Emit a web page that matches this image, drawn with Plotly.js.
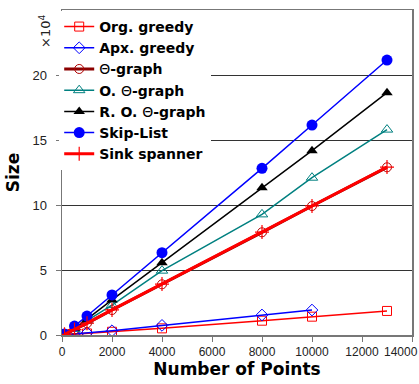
<!DOCTYPE html>
<html><head><meta charset="utf-8">
<script src="https://cdn.plot.ly/plotly-3.0.1.min.js"></script>
<style>html,body{margin:0;padding:0;background:#fff}#chart{width:419px;height:384px}</style>
</head><body><div id="chart"></div>
<script>
// x: number of points; y values in units of 10^4
const points = [100, 500, 1000, 2000, 4000, 8000, 10000, 13000];
const pointsApx = [100, 500, 1000, 2000, 4000, 8000, 10000];
const orgGreedy = [0.01, 0.06, 0.12, 0.25, 0.51, 1.1, 1.41, 1.85];
const apxGreedy = [0.02, 0.08, 0.17, 0.33, 0.74, 1.54, 1.92];
const thetaGraph = [0.05, 0.42, 0.9, 1.92, 3.9, 7.9, 9.92, 12.9];
const oThetaGraph = [0.06, 0.47, 1.1, 2.3, 4.95, 9.28, 12.1, 15.8];
const roThetaGraph = [0.07, 0.52, 1.22, 2.7, 5.56, 11.33, 14.18, 18.64];
const skipList = [0.08, 0.69, 1.46, 3.08, 6.33, 12.82, 16.15, 21.15];
const sinkSpanner = [0.05, 0.42, 0.91, 1.93, 3.92, 7.92, 9.93, 12.92];
const xTicks = [0, 2000, 4000, 6000, 8000, 10000, 12000, 14000];
const xTickLabels = ['0', '2000', '4000', '6000', '8000', '10000', '12000', '14000'];
const yTicks = [0, 5, 10, 15, 20];
const seriesNames = ['Org. greedy','Apx. greedy','<span style="font-weight:normal">Θ</span>-graph','O. <span style="font-weight:normal">Θ</span>-graph','R. O. <span style="font-weight:normal">Θ</span>-graph','Skip-List','Sink spanner'];

const lastIdx = xTickLabels.length - 1;
// the last x label is drawn right-aligned at the page edge (as in the reference) so it is not cut off
const xTickText = xTickLabels.map((t, i) => i === lastIdx ? '' : t);
const tickFont = {size:12, color:'#222', family:'Liberation Sans, Arial, sans-serif'};

const traces = [
  {x: points, y: orgGreedy, name: seriesNames[0], mode:'lines+markers', line:{color:'#ff0000', width:1.5}, marker:{symbol:'square-open', size:9, color:'#ff0000'}},
  {x: pointsApx, y: apxGreedy, name: seriesNames[1], mode:'lines+markers', line:{color:'#0000ff', width:1.5}, marker:{symbol:'diamond-open', size:9, color:'#0000ff'}},
  {x: points, y: thetaGraph, name: seriesNames[2], mode:'lines+markers', line:{color:'#8b0000', width:3}, marker:{symbol:'circle-open', size:9, color:'#b00000'}},
  {x: points, y: oThetaGraph, name: seriesNames[3], mode:'lines+markers', line:{color:'#008080', width:1.5}, marker:{symbol:'triangle-up-open', size:10, color:'#008080'}},
  {x: points, y: roThetaGraph, name: seriesNames[4], mode:'lines+markers', line:{color:'#000000', width:1.5}, marker:{symbol:'triangle-up', size:10, color:'#000000'}},
  {x: points, y: skipList, name: seriesNames[5], mode:'lines+markers', line:{color:'#0000ff', width:1.5}, marker:{symbol:'circle', size:11, color:'#0000ff'}},
  {x: points, y: sinkSpanner, name: seriesNames[6], mode:'lines+markers', line:{color:'#ff0000', width:3}, marker:{symbol:'cross-thin-open', size:10, color:'#ff0000', line:{width:1.2, color:'#ff0000'}}}
];

const layout = {
  width: 419, height: 384,
  margin: {l:62, r:7, t:10, b:49},
  paper_bgcolor:'#fff', plot_bgcolor:'#fff',
  font: {family:'DejaVu Sans, sans-serif', color:'#222'},
  showlegend: true,
  legend: {x:-0.008, y:0.997, xanchor:'left', yanchor:'top', bgcolor:'#fff', borderwidth:0,
           font:{size:14, weight:'bold', color:'#000'}, tracegroupgap:0},
  xaxis: {range:[0,14000], tickvals: xTicks, ticktext: xTickText, showgrid:false, zeroline:false,
          showline:true, mirror:true, linecolor:'#777', linewidth:1.5,
          ticks:'outside', ticklen:5, tickcolor:'#777', tickfont: tickFont,
          title:{text:'<b>Number of Points</b>', font:{size:17, color:'#000'}, standoff:4}},
  yaxis: {range:[0,25], tickvals: yTicks, ticktext: yTicks.map(String), showgrid:true, gridcolor:'#333', gridwidth:1, zeroline:false,
          showline:true, mirror:true, linecolor:'#777', linewidth:1.5, ticklabelstandoff:6,
          ticks:'outside', ticklen:5, tickcolor:'#777', tickfont:{size:13, color:'#222', family:'Liberation Sans, Arial, sans-serif'},
          title:{text:'<b>Size</b>', font:{size:17, color:'#000'}, standoff:8}},
  annotations: [
    {xref:'paper', yref:'paper', x:-0.049, y:0.935, xanchor:'center', yanchor:'middle', text:'×10<sup>4</sup>', showarrow:false,
     textangle:-90, font:{size:13, color:'#222'}},
    {xref:'x', yref:'paper', x:xTicks[lastIdx], y:0, xanchor:'right', yanchor:'top', xshift:7, yshift:-9,
     text:xTickLabels[lastIdx], showarrow:false, borderpad:0, font: tickFont}
  ]
};
Plotly.newPlot('chart', traces, layout, {displayModeBar:false, staticPlot:true});
</script></body></html>
